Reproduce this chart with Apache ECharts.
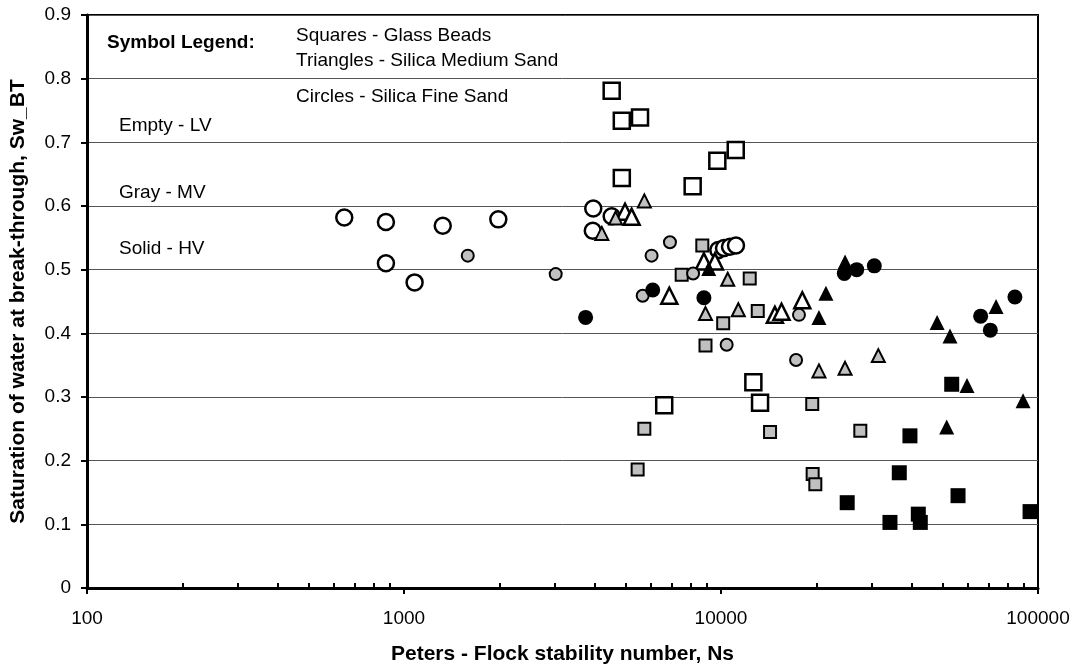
<!DOCTYPE html>
<html>
<head>
<meta charset="utf-8">
<script src="https://cdn.jsdelivr.net/npm/echarts@6/dist/echarts.min.js"></script>
<style>
  html, body { margin: 0; padding: 0; background: #fff; }
  #chart { width: 1078px; height: 670px; }
</style>
</head>
<body>
<div id="chart"></div>
<script>
// Squares - Glass Beads
const squaresLV = [[4520, 0.781], [4865, 0.734], [5553, 0.739], [4865, 0.644], [8140, 0.631],
  [9737, 0.671], [11130, 0.688], [12650, 0.323], [13280, 0.291], [6620, 0.287]];
const squaresMV = [[8730, 0.538], [7516, 0.492], [12320, 0.486], [13060, 0.435], [10160, 0.416],
  [8935, 0.381], [19400, 0.289], [5730, 0.250], [14280, 0.245], [27510, 0.247],
  [5458, 0.186], [19460, 0.179], [19840, 0.163]];
const squaresHV = [[53430, 0.320], [39450, 0.239], [36510, 0.181], [25010, 0.134], [55940, 0.145],
  [41920, 0.116], [42530, 0.103], [34120, 0.103], [94400, 0.120]];

// Triangles - Silica Medium Sand
const trianglesLV = [[4980, 0.591], [5225, 0.583], [6870, 0.459], [8830, 0.513], [9570, 0.513],
  [14790, 0.429], [15520, 0.434], [18050, 0.452]];
const trianglesMV = [[5730, 0.608], [4208, 0.557], [4650, 0.581], [10500, 0.485], [8935, 0.431],
  [11340, 0.437], [20370, 0.341], [24620, 0.345], [31350, 0.365]];
const trianglesHV = [[9150, 0.502], [21430, 0.463], [20370, 0.425], [24620, 0.512], [48070, 0.417],
  [52780, 0.396], [73740, 0.442], [59700, 0.318], [89700, 0.294], [51520, 0.253]];

// Circles - Silica Fine Sand
const circlesLV = [[648, 0.582], [877, 0.575], [1325, 0.569], [1984, 0.579], [877, 0.510],
  [1080, 0.480], [3954, 0.596], [4520, 0.584], [3940, 0.561],
  [9806, 0.531], [10220, 0.534], [10675, 0.536], [11150, 0.538]];
const circlesMV = [[1589, 0.522], [3010, 0.493], [6040, 0.522], [6902, 0.543], [8165, 0.494],
  [5662, 0.459], [17620, 0.429], [10420, 0.382], [17250, 0.358]];
const circlesHV = [[3740, 0.425], [6090, 0.468], [8833, 0.456], [24490, 0.494], [26800, 0.500],
  [30450, 0.506], [84560, 0.457], [65930, 0.427], [70730, 0.405]];

// minor ticks of the log axis
const minorTicks = [200, 300, 400, 500, 600, 700, 800, 900,
  2000, 3000, 4000, 5000, 6000, 7000, 8000, 9000,
  20000, 30000, 40000, 50000, 60000, 70000, 80000, 90000];

const FONT = "'Liberation Sans', Arial, sans-serif";
const GRAY = '#c0c0c0';

// one scatter series per symbol / fill combination
function makeSeries(data, symbol, size, fill, border) {
  return {
    type: 'scatter',
    data: data,
    symbol: symbol,
    symbolSize: size,
    itemStyle: {
      color: fill,
      opacity: 1,
      borderColor: '#000',
      borderWidth: border
    },
    emphasis: { disabled: true }
  };
}

function note(text, x, y, bold) {
  return {
    type: 'text', x: x, y: y,
    style: {
      text: text,
      font: (bold ? 'bold ' : '') + '19px ' + FONT,
      fill: '#000',
      verticalAlign: 'middle'
    }
  };
}

const chart = echarts.init(document.getElementById('chart'));

const option = {
  animation: false,
  textStyle: { fontFamily: FONT },
  grid: {
    left: 87, right: 40, top: 15, bottom: 82,
    show: true, borderColor: '#000', borderWidth: 2
  },
  xAxis: [
    {
      type: 'log',
      logBase: 10,
      min: 100,
      max: 100000,
      splitNumber: 3,
      name: 'Peters - Flock stability number, Ns',
      nameLocation: 'middle',
      nameGap: 56,
      nameTextStyle: { fontSize: 21, fontWeight: 'bold', color: '#000', fontFamily: FONT },
      axisLine: { show: true, lineStyle: { color: '#000', width: 3 } },
      axisTick: { show: true, length: 6, lineStyle: { color: '#000', width: 2 } },
      axisLabel: {
        fontSize: 19, color: '#000', margin: 21, fontFamily: FONT,
        formatter: (v) => String(Math.round(v))
      },
      splitLine: { show: false }
    },
    {
      type: 'log',
      logBase: 10,
      min: 100,
      max: 100000,
      position: 'bottom',
      axisLine: { show: false },
      axisLabel: { show: false },
      splitLine: { show: false },
      axisTick: {
        show: true, inside: true, length: 5,
        customValues: minorTicks,
        lineStyle: { color: '#000', width: 2 }
      }
    }
  ],
  yAxis: {
    type: 'value',
    min: 0,
    max: 0.9,
    interval: 0.1,
    name: 'Saturation of water at break-through, Sw_BT',
    nameLocation: 'middle',
    nameGap: 58,
    nameTextStyle: { fontSize: 21, fontWeight: 'bold', color: '#000', fontFamily: FONT },
    axisLine: { show: true, lineStyle: { color: '#000', width: 3 } },
    axisTick: { show: true, length: 6, lineStyle: { color: '#000', width: 2 } },
    axisLabel: { fontSize: 19, color: '#000', margin: 16, fontFamily: FONT },
    splitLine: { show: true, lineStyle: { color: '#555', width: 1 } }
  },
  graphic: [
    note('Symbol Legend:', 107, 43, true),
    note('Squares - Glass Beads', 296, 36),
    note('Triangles - Silica Medium Sand', 296, 61),
    note('Circles - Silica Fine Sand', 296, 97),
    note('Empty - LV', 119, 126),
    note('Gray - MV', 119, 193),
    note('Solid - HV', 119, 249)
  ],
  series: [
    makeSeries(circlesLV, 'circle', 16, '#fff', 2.5),
    makeSeries(squaresLV, 'rect', 16, '#fff', 2.5),
    makeSeries(trianglesLV, 'triangle', 16, '#fff', 2.5),
    makeSeries(squaresMV, 'rect', 12, GRAY, 2),
    makeSeries(trianglesMV, 'triangle', 13, GRAY, 2),
    makeSeries(circlesMV, 'circle', 12, GRAY, 2),
    makeSeries(squaresHV, 'rect', 15, '#000', 0),
    makeSeries(trianglesHV, 'triangle', 15, '#000', 0),
    makeSeries(circlesHV, 'circle', 15, '#000', 0)
  ]
};

chart.setOption(option);
</script>
</body>
</html>
